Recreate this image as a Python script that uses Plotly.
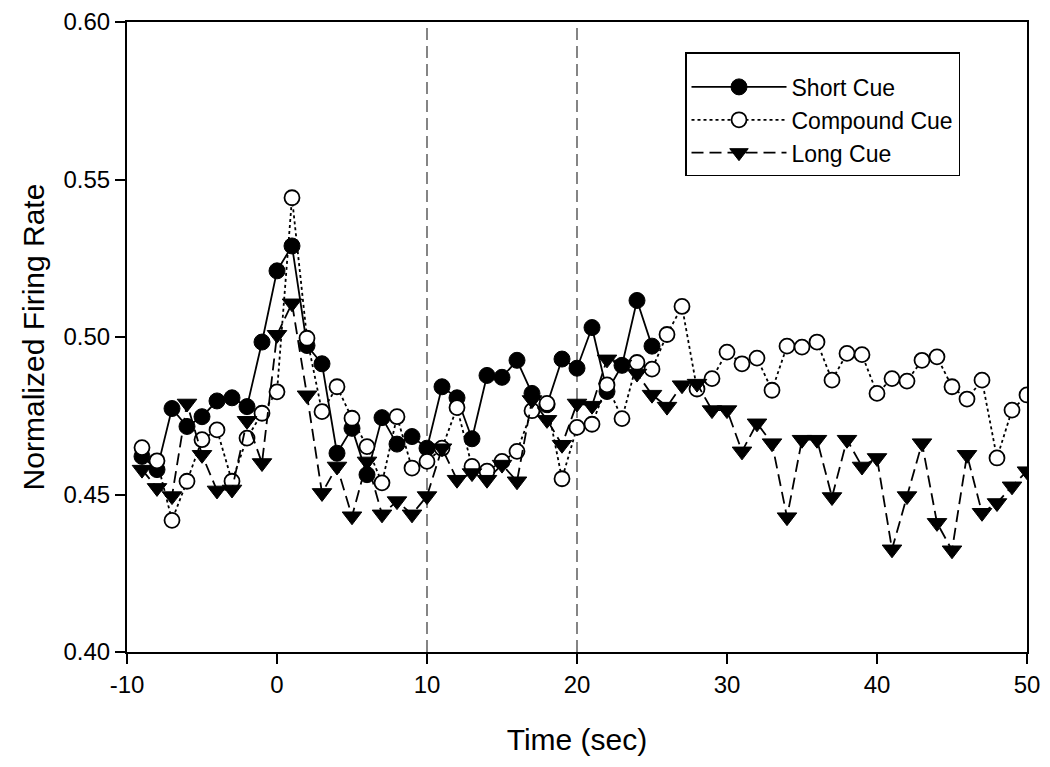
import plotly.graph_objects as go

# Time axis (sec)
time_short = list(range(-9, 26))
time_all = list(range(-9, 51))

short_cue = [0.4621, 0.4579, 0.4773, 0.4716, 0.4747, 0.4797, 0.4807, 0.4779, 0.4984, 0.5210,
             0.5289, 0.4973, 0.4915, 0.4631, 0.4710, 0.4563, 0.4744, 0.4660, 0.4684, 0.4647,
             0.4842, 0.4807, 0.4677, 0.4878, 0.4872, 0.4926, 0.4821, 0.4785, 0.4930, 0.4901,
             0.5030, 0.4827, 0.4910, 0.5116, 0.4971]

compound_cue = [0.4649, 0.4607, 0.4418, 0.4542, 0.4674, 0.4705, 0.4542, 0.4679, 0.4758, 0.4826,
                0.5442, 0.4996, 0.4763, 0.4842, 0.4742, 0.4652, 0.4537, 0.4747, 0.4584, 0.4605,
                0.4647, 0.4776, 0.4589, 0.4574, 0.4605, 0.4637, 0.4766, 0.4789, 0.4550, 0.4713,
                0.4723, 0.4848, 0.4741, 0.4919, 0.4898, 0.5008, 0.5097, 0.4835, 0.4868, 0.4952,
                0.4915, 0.4933, 0.4831, 0.4971, 0.4968, 0.4984, 0.4863, 0.4948, 0.4944, 0.4821,
                0.4868, 0.4860, 0.4926, 0.4937, 0.4842, 0.4803, 0.4863, 0.4616, 0.4768, 0.4816]

long_cue = [0.4579, 0.4521, 0.4495, 0.4789, 0.4626, 0.4513, 0.4516, 0.4734, 0.4600, 0.5007,
            0.5107, 0.4815, 0.4505, 0.4589, 0.4431, 0.4605, 0.4437, 0.4479, 0.4437, 0.4495,
            0.4647, 0.4547, 0.4568, 0.4547, 0.4595, 0.4542, 0.4800, 0.4737, 0.4658, 0.4789,
            0.4782, 0.4929, 0.4913, 0.4884, 0.4817, 0.4779, 0.4847, 0.4852, 0.4768, 0.4768,
            0.4637, 0.4726, 0.4663, 0.4428, 0.4674, 0.4674, 0.4492, 0.4674, 0.4589, 0.4616,
            0.4326, 0.4495, 0.4663, 0.4410, 0.4323, 0.4626, 0.4442, 0.4473, 0.4526, 0.4574]

cue_markers = [10, 20]
x_ticks = [-10, 0, 10, 20, 30, 40, 50]
y_ticks = [0.40, 0.45, 0.50, 0.55, 0.60]

FONT = "Arial, 'Liberation Sans', Helvetica, sans-serif"

fig = go.Figure()
fig.add_trace(go.Scatter(
    x=time_short, y=short_cue, name="Short Cue", mode="lines+markers", legendgroup="a",
    line=dict(color="black", width=1.8, dash="solid"),
    marker=dict(symbol="circle", size=16, color="black", line=dict(color="black", width=1))))
fig.add_trace(go.Scatter(
    x=time_all, y=compound_cue, name="Compound Cue", mode="lines+markers", legendgroup="b",
    line=dict(color="black", width=1.8, dash="dot"),
    marker=dict(symbol="circle", size=15, color="white", line=dict(color="black", width=1.8))))
fig.add_trace(go.Scatter(
    x=time_all, y=long_cue, name="Long Cue", mode="lines+markers", legendgroup="c",
    line=dict(color="black", width=1.8, dash="12px,6px"),
    marker=dict(symbol="triangle-down", size=17, color="black", line=dict(color="black", width=1))))

for xv in cue_markers:
    fig.add_shape(type="line", x0=xv, x1=xv, xref="x", y0=0, y1=1, yref="paper",
                  line=dict(color="#444444", width=1.3, dash="12px,6px"), layer="below")

axis_common = dict(
    showline=True, linecolor="black", linewidth=2, mirror=True,
    ticks="outside", ticklen=10, tickwidth=1.5, tickcolor="black",
    showgrid=False, zeroline=False, ticklabeloverflow="allow", automargin=False,
    tickfont=dict(family=FONT, size=24, color="black"),
)

fig.update_layout(
    width=1042, height=759,
    paper_bgcolor="white", plot_bgcolor="white",
    margin=dict(l=119, r=23, t=14, b=115),
    font=dict(family=FONT, color="black"),
    xaxis=dict(range=[-10, 50], tickvals=x_ticks, ticktext=[str(v) for v in x_ticks],
               title=dict(text="Time (sec)", font=dict(family=FONT, size=30), standoff=32),
               **axis_common),
    yaxis=dict(range=[0.40, 0.60], tickvals=y_ticks, ticktext=[f"{v:.2f}" for v in y_ticks],
               title=dict(text="Normalized Firing Rate", font=dict(family=FONT, size=30), standoff=10),
               **axis_common),
    legend=dict(x=0.62, y=0.952, xanchor="left", yanchor="top",
                bordercolor="black", borderwidth=1.5, bgcolor="white",
                font=dict(family=FONT, size=23, color="black"),
                title=dict(text=" ", font=dict(size=9)),
                itemwidth=95, traceorder="grouped", tracegroupgap=0),
    showlegend=True,
)

fig.write_html("out.html")
